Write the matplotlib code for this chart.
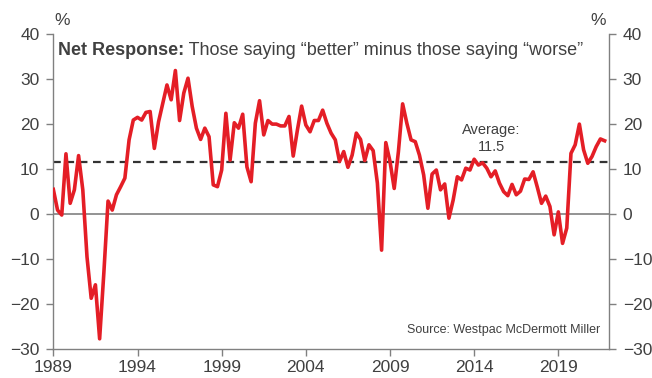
import matplotlib
matplotlib.use("Agg")
import matplotlib.pyplot as plt
import numpy as np

plt.rcParams['font.family'] = ['Liberation Sans', 'DejaVu Sans']

# quarterly net response, 1989 Q1 onward
net_response = [
    5.4, 0.8, -0.3, 13.3,
    2.3, 5.3, 12.9, 5.3,
    -9.6, -18.8, -15.8, -27.8,
    -13.2, 2.8, 0.8, 4.2,
    6.0, 7.9, 16.4, 20.8,
    21.4, 20.8, 22.5, 22.7,
    14.5, 20.4, 24.5, 28.6,
    25.3, 31.8, 20.7, 26.8,
    30.1, 23.8, 19.0, 16.5,
    19.0, 17.1, 6.4, 6.0,
    9.7, 22.3, 11.9, 20.2,
    19.0, 22.1, 10.4, 7.1,
    20.1, 25.1, 17.5, 20.7,
    19.9, 19.9, 19.5, 19.5,
    21.6, 12.8, 18.6, 23.9,
    19.7, 18.2, 20.7, 20.7,
    23.0, 20.1, 17.9, 16.4,
    11.6, 13.8, 10.3, 13.0,
    17.9, 16.5, 11.8, 15.3,
    14.0, 6.8, -8.1, 15.8,
    11.6, 5.6, 13.8, 24.4,
    20.1, 16.4, 16.0, 13.0,
    8.6, 1.2, 8.8, 9.7,
    5.3, 6.6, -1.0, 3.0,
    8.2, 7.5, 10.1, 9.7,
    12.1, 10.8, 11.3, 10.1,
    8.2, 9.5, 6.8, 4.9,
    4.0, 6.5, 4.2, 5.0,
    7.7, 7.6, 9.3, 5.9,
    2.3, 3.9, 1.6, -4.7,
    0.4, -6.6, -3.2, 13.4,
    15.3, 19.9, 14.2, 11.2,
    12.7, 14.9, 16.6, 16.2,
]
start_year = 1989
average = 11.5
year_ticks = [1989, 1994, 1999, 2004, 2009, 2014, 2019]
y_ticks = [-30, -20, -10, 0, 10, 20, 30, 40]

quarters = start_year + np.arange(len(net_response)) / 4

txt = '#404040'
fig = plt.figure(figsize=(6.52, 3.78), dpi=100)
ax = fig.add_axes([0.0818, 0.0775, 0.852, 0.8335])

ax.axhline(0, color='#808080', lw=1.2, zorder=1)
ax.axhline(average, color='#333333', lw=1.6, ls=(0, (3.5, 2.5)), zorder=2)
ax.plot(quarters, net_response, color='#E41E26', lw=2.6, zorder=3)

ax.set_xlim(1989, 2022)
ax.set_ylim(-30, 40)
ax.set_xticks(year_ticks)
ax.set_yticks(y_ticks)

ax.spines['top'].set_visible(False)
for s in ['left', 'right', 'bottom']:
    ax.spines[s].set_color('#808080')
    ax.spines[s].set_linewidth(1.0)
ax.tick_params(axis='both', colors='#808080', labelcolor=txt, labelsize=12.5,
               length=5, width=1.0)
ax.tick_params(axis='y', right=True, labelright=True, pad=5)
ax.tick_params(axis='x', pad=3)

fig.text(0.095, 0.945, '%', color=txt, fontsize=12.5, ha='center', va='center')
fig.text(0.918, 0.945, '%', color=txt, fontsize=12.5, ha='center', va='center')

# bold lead-in, then the rest of the heading placed right after it
head = ax.text(0.008, 0.945, 'Net Response:', transform=ax.transAxes,
               fontsize=13, fontweight='bold', color=txt, va='center')
fig.canvas.draw()
bb = head.get_window_extent().transformed(ax.transAxes.inverted())
ax.text(bb.x1, 0.945, ' Those saying \u201cbetter\u201d minus those saying \u201cworse\u201d',
        transform=ax.transAxes, fontsize=13, color=txt, va='center')

ax.text(2015.0, 16.7, 'Average:\n11.5', color=txt, fontsize=10.5,
        ha='center', va='center', linespacing=1.2)
ax.text(0.985, 0.06, 'Source: Westpac McDermott Miller', transform=ax.transAxes,
        color=txt, fontsize=9, ha='right', va='center')

fig.savefig('out.png', dpi=100)
